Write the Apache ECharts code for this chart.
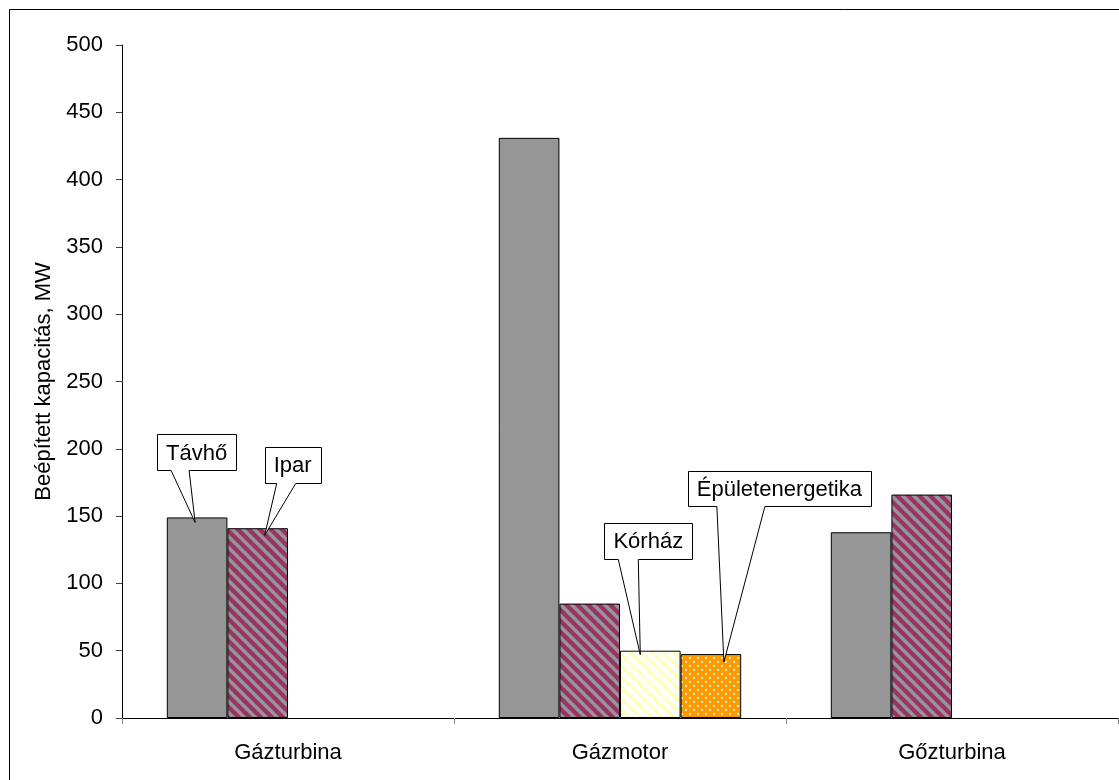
<!DOCTYPE html>
<html>
<head>
<meta charset="utf-8">
<script src="https://cdn.jsdelivr.net/npm/echarts@6/dist/echarts.min.js"></script>
<style>
  html, body { margin: 0; padding: 0; background: #fff; }
  #chart { width: 1119px; height: 780px; }
</style>
</head>
<body>
<div id="chart"></div>
<script>
// Installed capacity of CHP units by technology and user segment (MW)
const categories = ['Gázturbina', 'Gázmotor', 'Gőzturbina'];
const seriesNames = ['Távhő', 'Ipar', 'Kórház', 'Épületenergetika'];
const tavho = [149, 431, 138];
const ipar = [141, 85, 166];
const korhaz = [null, 50, null];
const epuletenergetika = [null, 47.5, null];
const yMin = 0, yMax = 500, yStep = 50;
const yAxisTitle = 'Beépített kapacitás, MW';

const FONT = '"Liberation Sans", Arial, sans-serif';
const FONT_SIZE = 22;

// Fill patterns
function stripes(bg, fg, size, width) {
  const c = document.createElement('canvas');
  c.width = c.height = size;
  const g = c.getContext('2d');
  g.fillStyle = bg; g.fillRect(0, 0, size, size);
  g.strokeStyle = fg; g.lineWidth = width;
  for (const k of [-size, 0, size]) {
    g.beginPath();
    g.moveTo(-2, -2 + k);
    g.lineTo(size + 2, size + 2 + k);
    g.stroke();
  }
  return { image: c, repeat: 'repeat' };
}
function dots(bg, fg, size) {
  const c = document.createElement('canvas');
  c.width = c.height = size;
  const g = c.getContext('2d');
  g.fillStyle = bg; g.fillRect(0, 0, size, size);
  g.fillStyle = fg;
  g.fillRect(1, 1, 2, 2);
  g.fillRect(size / 2 + 1, size / 2 + 1, 2, 2);
  return { image: c, repeat: 'repeat' };
}

const fills = [
  '#969696',
  stripes('#993366', '#969696', 11, 3.4),
  stripes('#ffffff', '#ffffc0', 11, 3.6),
  dots('#ff9900', '#fff0c8', 8)
];
const values = [tavho, ipar, korhaz, epuletenergetika];

// Callout geometry, in pixels relative to the top centre of the bar it labels
const callouts = [
  { s: 0, c: 0, tip: [-2, 5], left: -40, top: -83, h: 36, base: [-26, -8] },
  { s: 1, c: 0, tip: [7, 7], left: 7, top: -81, h: 36, base: [19, 38] },
  { s: 2, c: 1, tip: [-10, 4], left: -46, top: -128, h: 36, base: [-32, -12] },
  { s: 3, c: 1, tip: [13, 8], right: 160, top: -183, h: 35, base: [6, 54] }
];

const chart = echarts.init(document.getElementById('chart'), null, { renderer: 'canvas' });

chart.setOption({
  animation: false,
  backgroundColor: '#fff',
  textStyle: { fontFamily: FONT },
  grid: { left: 122, right: 1, top: 45, bottom: 62 },
  xAxis: {
    type: 'category',
    data: categories,
    axisLine: { lineStyle: { color: '#000', width: 1 } },
    axisTick: { show: true, length: 6, lineStyle: { color: '#808080' } },
    axisLabel: { fontSize: FONT_SIZE, color: '#000', margin: 24, fontFamily: FONT }
  },
  yAxis: {
    type: 'value',
    min: yMin, max: yMax, interval: yStep,
    name: yAxisTitle,
    nameLocation: 'middle',
    nameGap: 64,
    nameTextStyle: { fontSize: FONT_SIZE, color: '#000', fontFamily: FONT },
    axisLine: { show: true, lineStyle: { color: '#000', width: 1 } },
    axisTick: { show: true, length: 6, lineStyle: { color: '#404040' } },
    splitLine: { show: false },
    axisLabel: { fontSize: FONT_SIZE, color: '#000', margin: 19, fontFamily: FONT }
  },
  series: seriesNames.map((name, i) => ({
    name,
    type: 'bar',
    data: values[i],
    barGap: '0%',
    barCategoryGap: '27%',
    itemStyle: { color: fills[i], borderColor: '#000', borderWidth: 1 }
  }))
});

// Callout boxes with pointers to their bars
const measure = document.createElement('canvas').getContext('2d');
measure.font = FONT_SIZE + 'px ' + FONT;
const graphics = [{
  type: 'rect', silent: true,
  shape: { x: 9.5, y: 9.5, width: 1300, height: 1000 },
  style: { fill: 'none', stroke: '#000', lineWidth: 1 }
}];
const model = chart.getModel();
callouts.forEach(co => {
  const layout = model.getSeriesByIndex(co.s).getData().getItemLayout(co.c);
  const cx = layout.x + layout.width / 2;
  const cy = Math.min(layout.y, layout.y + layout.height);
  const text = seriesNames[co.s];
  const w = Math.round(measure.measureText(text).width) + 18;
  const L = co.left !== undefined ? cx + co.left : cx + co.right - w;
  const R = L + w;
  const T = cy + co.top;
  const B = T + co.h;
  const px = v => Math.round(v) + 0.5;
  graphics.push({
    type: 'polygon', silent: true, z: 100,
    shape: { points: [
      [px(L), px(T)], [px(R), px(T)], [px(R), px(B)],
      [cx + co.base[1], px(B)], [cx + co.tip[0], cy + co.tip[1]],
      [cx + co.base[0], px(B)], [px(L), px(B)]
    ] },
    style: { fill: '#fff', stroke: '#000', lineWidth: 1 }
  });
  graphics.push({
    type: 'text', silent: true, z: 101,
    style: {
      text, x: (L + R) / 2, y: (T + B) / 2 + 1,
      align: 'center', verticalAlign: 'middle',
      font: FONT_SIZE + 'px ' + FONT, fill: '#000'
    }
  });
});
chart.setOption({ graphic: graphics });
</script>
</body>
</html>
